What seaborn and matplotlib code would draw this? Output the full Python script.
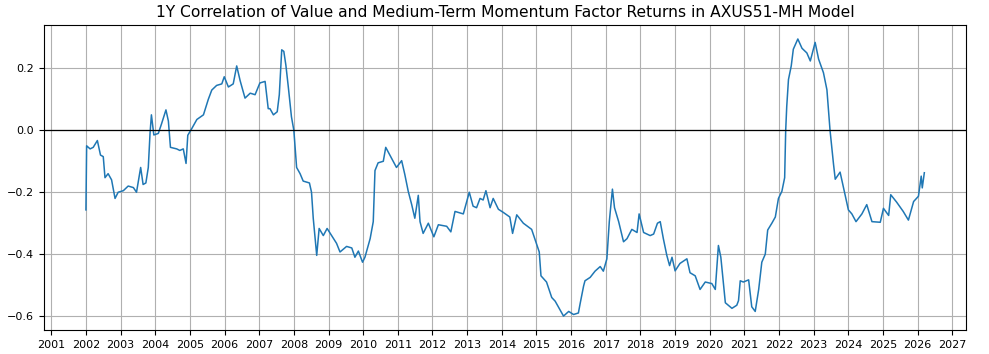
import seaborn as sns
import pandas as pd
import matplotlib
matplotlib.use("Agg")
import matplotlib.pyplot as plt
import matplotlib.dates as mdates

# values (decimal year, rolling 1Y correlation)
years = [
    2002.00, 2002.02, 2002.12, 2002.21, 2002.33, 2002.42, 2002.50, 2002.55, 2002.64, 2002.74,
    2002.84, 2002.93, 2003.08, 2003.22, 2003.37, 2003.46, 2003.58, 2003.65, 2003.73, 2003.80,
    2003.85, 2003.89, 2003.96, 2004.09, 2004.18, 2004.31, 2004.38, 2004.44, 2004.62, 2004.71,
    2004.81, 2004.89, 2004.94, 2005.05, 2005.20, 2005.39, 2005.53, 2005.63, 2005.77, 2005.92,
    2005.99, 2006.11, 2006.25, 2006.35, 2006.45, 2006.59, 2006.74, 2006.88, 2007.02, 2007.17,
    2007.26, 2007.31, 2007.41, 2007.52, 2007.58, 2007.65, 2007.71, 2007.77, 2007.84, 2007.93,
    2008.00, 2008.08, 2008.18, 2008.27, 2008.45, 2008.51, 2008.56, 2008.66, 2008.73, 2008.85,
    2008.96, 2009.09, 2009.23, 2009.33, 2009.52, 2009.67, 2009.76, 2009.86, 2009.98, 2010.05,
    2010.20, 2010.29, 2010.34, 2010.43, 2010.58, 2010.65, 2010.77, 2010.96, 2011.11, 2011.20,
    2011.30, 2011.40, 2011.49, 2011.59, 2011.64, 2011.73, 2011.88, 2012.04, 2012.17, 2012.41,
    2012.53, 2012.65, 2012.89, 2013.06, 2013.17, 2013.27, 2013.37, 2013.46, 2013.54, 2013.66,
    2013.75, 2013.90, 2014.04, 2014.23, 2014.31, 2014.43, 2014.62, 2014.86, 2014.98, 2015.08,
    2015.13, 2015.29, 2015.44, 2015.54, 2015.68, 2015.78, 2015.93, 2016.07, 2016.21, 2016.26,
    2016.36, 2016.40, 2016.55, 2016.69, 2016.84, 2016.93, 2017.03, 2017.10, 2017.19, 2017.25,
    2017.37, 2017.51, 2017.61, 2017.75, 2017.90, 2017.96, 2018.09, 2018.28, 2018.38, 2018.49,
    2018.57, 2018.66, 2018.76, 2018.84, 2018.91, 2019.00, 2019.14, 2019.34, 2019.43, 2019.58,
    2019.72, 2019.87, 2020.06, 2020.16, 2020.25, 2020.32, 2020.45, 2020.64, 2020.78, 2020.83,
    2020.88, 2020.97, 2021.12, 2021.21, 2021.31, 2021.41, 2021.50, 2021.60, 2021.67, 2021.79,
    2021.89, 2021.98, 2022.08, 2022.16, 2022.19, 2022.22, 2022.27, 2022.35, 2022.41, 2022.54,
    2022.66, 2022.80, 2022.90, 2023.04, 2023.14, 2023.28, 2023.38, 2023.47, 2023.57, 2023.62,
    2023.76, 2023.88, 2024.00, 2024.10, 2024.22, 2024.39, 2024.53, 2024.68, 2024.92, 2025.01,
    2025.16, 2025.22, 2025.39, 2025.58, 2025.73, 2025.88, 2026.02, 2026.10, 2026.13, 2026.19,
]
corr = [
    -0.257, -0.050, -0.060, -0.055, -0.033, -0.080, -0.085, -0.153, -0.140, -0.160,
    -0.220, -0.200, -0.195, -0.180, -0.185, -0.200, -0.120, -0.175, -0.170, -0.120,
    -0.010, 0.050, -0.015, -0.010, 0.020, 0.066, 0.030, -0.055, -0.060, -0.065,
    -0.060, -0.107, -0.016, 0.005, 0.035, 0.050, 0.100, 0.130, 0.145, 0.150,
    0.173, 0.140, 0.150, 0.208, 0.160, 0.104, 0.120, 0.115, 0.153, 0.158,
    0.070, 0.070, 0.050, 0.060, 0.115, 0.260, 0.255, 0.210, 0.140, 0.044,
    0.000, -0.120, -0.140, -0.164, -0.170, -0.200, -0.284, -0.404, -0.317, -0.340,
    -0.317, -0.340, -0.365, -0.393, -0.375, -0.380, -0.410, -0.390, -0.426, -0.410,
    -0.350, -0.295, -0.130, -0.105, -0.100, -0.055, -0.080, -0.120, -0.098, -0.142,
    -0.197, -0.240, -0.284, -0.210, -0.295, -0.333, -0.300, -0.344, -0.305, -0.310,
    -0.328, -0.262, -0.270, -0.200, -0.245, -0.250, -0.220, -0.225, -0.195, -0.250,
    -0.220, -0.255, -0.265, -0.280, -0.333, -0.273, -0.300, -0.320, -0.360, -0.393,
    -0.470, -0.490, -0.540, -0.552, -0.580, -0.600, -0.585, -0.595, -0.590, -0.560,
    -0.503, -0.486, -0.475, -0.455, -0.440, -0.455, -0.415, -0.295, -0.190, -0.250,
    -0.295, -0.360, -0.350, -0.320, -0.330, -0.270, -0.330, -0.340, -0.335, -0.300,
    -0.295, -0.350, -0.404, -0.437, -0.410, -0.454, -0.430, -0.415, -0.460, -0.470,
    -0.514, -0.490, -0.495, -0.514, -0.372, -0.410, -0.557, -0.575, -0.565, -0.550,
    -0.486, -0.490, -0.483, -0.570, -0.585, -0.514, -0.426, -0.400, -0.322, -0.300,
    -0.280, -0.220, -0.197, -0.153, 0.000, 0.077, 0.164, 0.208, 0.262, 0.295,
    0.265, 0.250, 0.224, 0.284, 0.230, 0.186, 0.131, 0.000, -0.109, -0.158,
    -0.135, -0.197, -0.257, -0.270, -0.295, -0.270, -0.240, -0.295, -0.297, -0.252,
    -0.275, -0.208, -0.232, -0.262, -0.290, -0.230, -0.213, -0.148, -0.186, -0.137,
]

# decimal year -> timestamp
dates = [pd.Timestamp(int(y), 1, 1) + pd.Timedelta(days=(y - int(y)) * 365.25) for y in years]
df = pd.DataFrame({"date": dates, "corr": corr})

fig, ax = plt.subplots(figsize=(9.89, 3.54), dpi=100)
fig.subplots_adjust(left=0.0445, right=0.977, top=0.929, bottom=0.068)

sns.lineplot(data=df, x="date", y="corr", ax=ax, color="#1f77b4", linewidth=1.1,
             estimator=None, sort=False)
ax.axhline(0, color="black", linewidth=0.9)

ax.xaxis.set_major_locator(mdates.YearLocator(1))
ax.xaxis.set_major_formatter(mdates.DateFormatter("%Y"))
ax.grid(True, color="#b0b0b0", linewidth=0.8)
ax.set_axisbelow(True)
ax.tick_params(labelsize=8)
ax.set_xlabel("")
ax.set_ylabel("")
ax.set_title("1Y Correlation of Value and Medium-Term Momentum Factor Returns in AXUS51-MH Model",
             fontsize=11.2)

plt.savefig("out.png", dpi=100)
